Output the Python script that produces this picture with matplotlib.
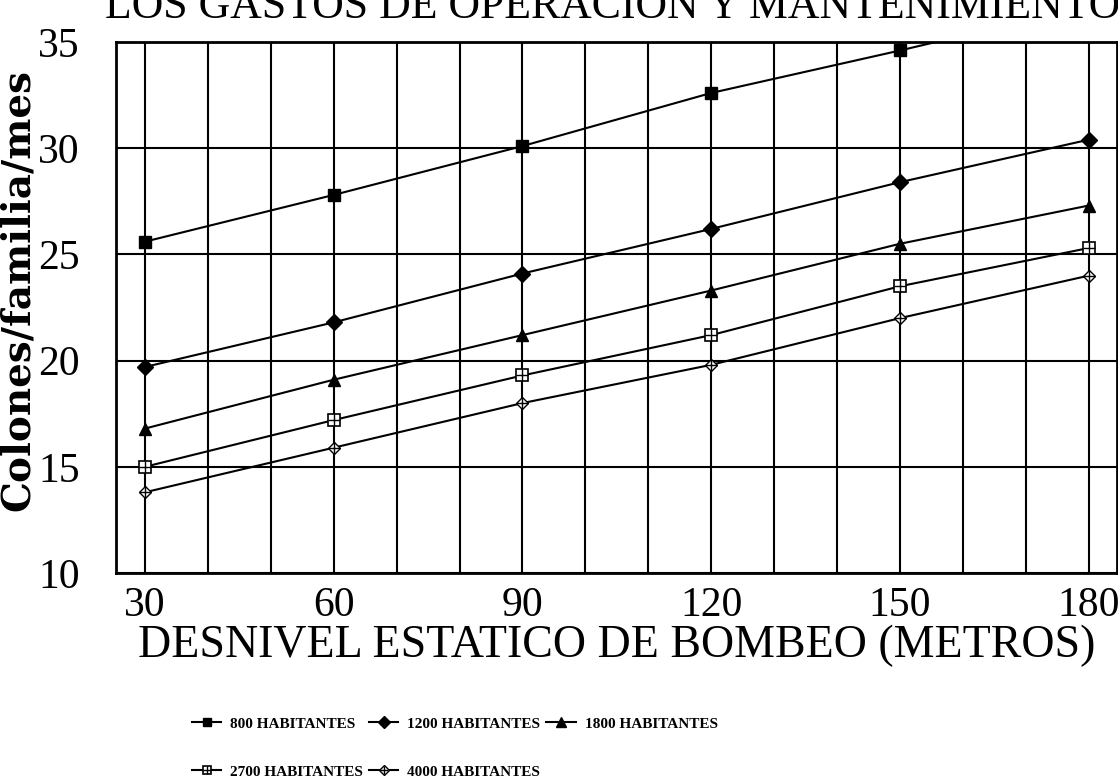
import matplotlib
matplotlib.use("Agg")
import matplotlib.pyplot as plt
from matplotlib.ticker import MultipleLocator
from matplotlib.legend_handler import HandlerTuple

# ---- data ----
x_desnivel = [30, 60, 90, 120, 150, 180]
s800 = [25.6, 27.8, 30.1, 32.6, 34.6, 36.7]
s1200 = [19.7, 21.8, 24.1, 26.2, 28.4, 30.4]
s1800 = [16.8, 19.1, 21.2, 23.3, 25.5, 27.3]
s2700 = [15.0, 17.2, 19.3, 21.2, 23.5, 25.3]
s4000 = [13.8, 15.9, 18.0, 19.8, 22.0, 24.0]
labels = ["800 HABITANTES", "1200 HABITANTES", "1800 HABITANTES",
          "2700 HABITANTES", "4000 HABITANTES"]
x_ticks = [30, 60, 90, 120, 150, 180]
y_ticks = [10, 15, 20, 25, 30, 35]

W, H = 1118, 779
fig = plt.figure(figsize=(W / 100, H / 100), dpi=100)
ax = fig.add_axes([116 / W, 1 - 573 / H, (1117 - 116) / W, (573 - 42) / H])

serif = "Liberation Serif"
lw = 1.5
h800, = ax.plot(x_desnivel, s800, color="black", lw=lw, marker="s", ms=8.5, mfc="black", mec="black")
h1200, = ax.plot(x_desnivel, s1200, color="black", lw=lw, marker="D", ms=8, mfc="black", mec="black")
h1800, = ax.plot(x_desnivel, s1800, color="black", lw=lw, marker="^", ms=9, mfc="black", mec="black")
h2700, = ax.plot(x_desnivel, s2700, color="black", lw=lw, marker="s", ms=8, mfc="white", mec="black", mew=1.2)
h2700b, = ax.plot(x_desnivel, s2700, lw=0, marker="+", ms=8, mec="black", mew=1.0)
h4000, = ax.plot(x_desnivel, s4000, color="black", lw=lw, marker="D", ms=6.5, mfc="white", mec="black", mew=1.0)
h4000b, = ax.plot(x_desnivel, s4000, lw=0, marker="+", ms=8, mec="black", mew=1.0)

ax.set_xlim(25.4, 184.5)
ax.set_ylim(10, 35)
ax.set_xticks(x_ticks)
ax.xaxis.set_minor_locator(MultipleLocator(10))
ax.set_yticks(y_ticks)
ax.grid(True, which="both", color="black", lw=1.5)
ax.tick_params(which="both", length=0)
ax.tick_params(axis="x", pad=10, labelsize=30)
ax.tick_params(axis="y", pad=26, labelsize=30)
for lab in ax.get_xticklabels() + ax.get_yticklabels():
    lab.set_fontfamily(serif)
for sp in ax.spines.values():
    sp.set_linewidth(2)
ax.set_axisbelow(True)

fig.text(617 / W, 1 - 646 / H, "DESNIVEL ESTATICO DE BOMBEO (METROS)",
         family=serif, fontsize=33, ha="center", va="center")
fig.text(18 / W, 1 - 290 / H, "Colones/familia/mes", family="DejaVu Serif",
         weight="bold", fontsize=28, rotation=90, ha="center", va="center")
fig.text(105 / W, 1 - 18 / H, "LOS GASTOS DE OPERACION Y MANTENIMIENTO",
         family=serif, fontsize=31.5, ha="left", va="baseline")

handles = [h800, (h2700, h2700b), h1200, (h4000, h4000b), h1800]
labs = [labels[0], labels[3], labels[1], labels[4], labels[2]]
leg = fig.legend(handles, labs, ncol=3, loc="upper left",
                 bbox_to_anchor=(192 / W, 1 - 717 / H), frameon=False,
                 borderpad=0, borderaxespad=0,
                 prop={"family": serif, "weight": "bold", "size": 11},
                 handlelength=1.9, handletextpad=0.6, columnspacing=0.4,
                 labelspacing=2.25, markerscale=0.75,
                 handler_map={tuple: HandlerTuple(ndivide=1)})

fig.savefig("out.png", dpi=100)
